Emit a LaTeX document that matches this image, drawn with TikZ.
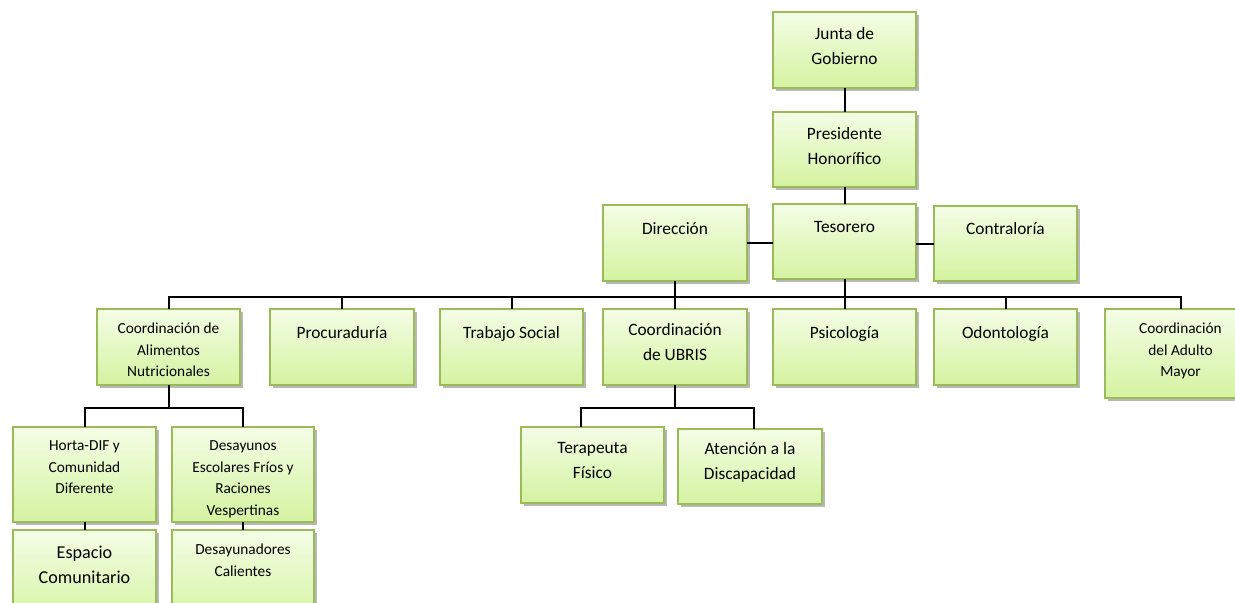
\documentclass[tikz,border=0pt]{standalone}
\usepackage{fontspec}
\setmainfont{Carlito}
\usetikzlibrary{shadows}
\definecolor{bordergreen}{HTML}{9BBB59}
\definecolor{filltop}{HTML}{F4FDE6}
\definecolor{fillbot}{HTML}{D4F3A0}
\tikzset{
  obox/.style={rectangle, draw=bordergreen, line width=1.4pt, top color=filltop, bottom color=fillbot,
    inner sep=0pt, outer sep=0pt,
    drop shadow={shadow xshift=2.2pt, shadow yshift=-2.6pt, opacity=0.28, fill=black}},
  otext/.style={inner sep=0pt, align=center, text=black},
  mainf/.style={font=\fontsize{13}{18.3}\selectfont},
  smallf/.style={font=\fontsize{11.5}{16.2}\selectfont},
  bigf/.style={font=\fontsize{13.6}{18.8}\selectfont},
  conn/.style={draw=black, line width=1.5pt}
}
\newcommand\orgbox[8]{%
  \node[obox, minimum width=#4*0.75pt-#2*0.75pt, minimum height=#5*0.75pt-#3*0.75pt] (#1) at ({(#2+#4)/2},{(#3+#5)/2}) {};
  \node[otext,#7,anchor=north] (#1t) at ({(#2+#4)/2},{#6-6.5}) {#8};}
\begin{document}
\begin{tikzpicture}[x=0.75pt,y=-0.75pt]
\useasboundingbox (0,0) rectangle (1235,603);
\clip (0,0) rectangle (1235,603);
\coordinate (busy) at (0,297);
\coordinate (aliy) at (0,408);
\orgbox{jg}{773}{12}{916}{88}{34}{mainf}{Junta de\\Gobierno}
\orgbox{ph}{773}{112}{916}{187}{134}{mainf}{Presidente\\Honorífico}
\orgbox{dir}{603}{205}{747}{281}{229}{mainf}{Dirección}
\orgbox{tes}{773}{204}{916}{279}{228}{mainf}{Tesorero}
\orgbox{con}{934}{206}{1077}{281}{229}{mainf}{Contraloría}
\orgbox{ali}{97}{309}{240}{385}{329}{smallf}{Coordinación de\\Alimentos\\Nutricionales}
\orgbox{pro}{270}{309}{414}{385}{333}{mainf}{Procuraduría}
\orgbox{ts}{440}{309}{583}{385}{333}{mainf}{Trabajo Social}
\orgbox{ubr}{603}{309}{747}{385}{330}{mainf}{Coordinación\\de UBRIS}
\orgbox{psi}{773}{309}{916}{385}{333}{mainf}{Psicología}
\orgbox{odo}{934}{309}{1077}{385}{333}{mainf}{Odontología}
\orgbox{adm}{1105}{309}{1256}{398}{329}{smallf}{Coordinación\\del Adulto\\Mayor}
\orgbox{hor}{13}{427}{156}{522}{447}{smallf}{Horta-DIF y\\Comunidad\\Diferente}
\orgbox{des}{172}{427}{314}{522}{447}{smallf}{Desayunos\\Escolares Fríos y\\Raciones\\Vespertinas}
\orgbox{esp}{13}{530}{156}{625}{552}{bigf}{Espacio\\Comunitario}
\orgbox{dca}{172}{530}{314}{625}{550}{smallf}{Desayunadores\\Calientes}
\orgbox{ter}{521}{427}{664}{503}{449}{mainf}{Terapeuta\\Físico}
\orgbox{ate}{678}{429}{822}{504}{449}{mainf}{Atención a la\\Discapacidad}
% connectors
\draw[conn] (jg.south) -- (ph.north);
\draw[conn] (ph.south) -- (tes.north);
\draw[conn] (dir.east) -- (dir.east -| tes.west);
\draw[conn] (tes.east |- con.west) -- (con.west);
\draw[conn] (tes.south) -- (tes.south |- busy);
\draw[conn] (dir.south) -- (dir.south |- busy);
\foreach \c in {ali,pro,ts,ubr,psi,odo,adm}{
  \draw[conn] (dir.south |- busy) -| (\c.north);
}
\draw[conn] (ali.south) -- (ali.south |- aliy);
\draw[conn] (ali.south |- aliy) -| (hor.north);
\draw[conn] (ali.south |- aliy) -| (des.north);
\draw[conn] (hor.south) -- (esp.north);
\draw[conn] (des.south) -- (dca.north);
\draw[conn] (ubr.south) -- (ubr.south |- aliy);
\draw[conn] (ubr.south |- aliy) -| ([xshift=-9pt]ter.north);
\draw[conn] (ubr.south |- aliy) -| ([xshift=3pt]ate.north);
\end{tikzpicture}
\end{document}
